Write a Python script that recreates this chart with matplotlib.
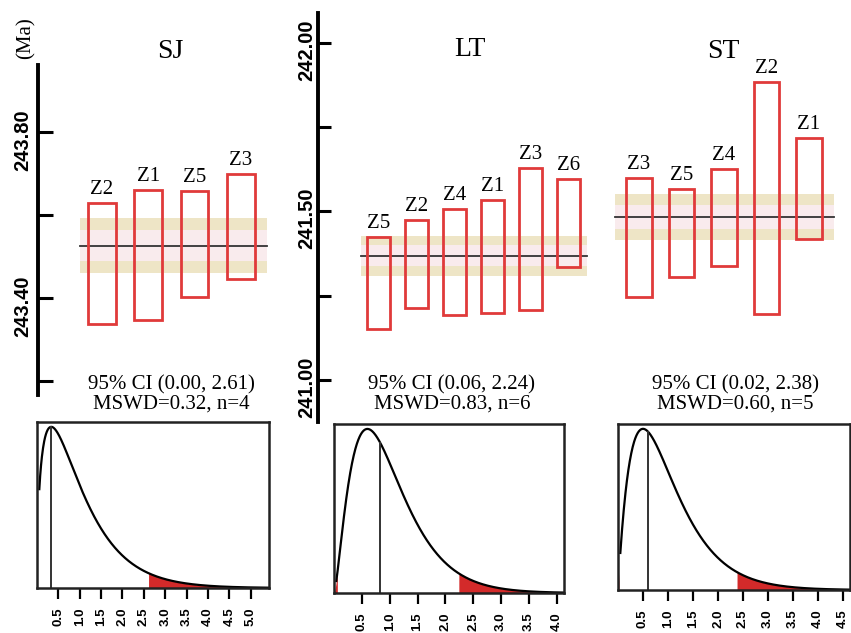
#!/usr/bin/env python3
import math

import matplotlib
import numpy as np

matplotlib.use("Agg")
import matplotlib.pyplot as plt
from matplotlib.patches import Rectangle


W, H = 851, 633
SERIF = "Liberation Serif"

# --- data (Ma) ---
SJ_GRAINS = ["Z2", "Z1", "Z5", "Z3"]
SJ_TOP = [243.629, 243.660, 243.658, 243.699]
SJ_BOTTOM = [243.337, 243.347, 243.402, 243.446]
SJ_MEAN = 243.526
SJ_ERR = (0.037, 0.066)
SJ_MSWD, SJ_N, SJ_CI = 0.32, 4, (0.00, 2.61)

LT_GRAINS = ["Z5", "Z2", "Z4", "Z1", "Z3", "Z6"]
LT_TOP = [241.424, 241.475, 241.507, 241.534, 241.629, 241.596]
LT_BOTTOM = [241.151, 241.214, 241.193, 241.199, 241.208, 241.335]
LT_MEAN = 241.368
LT_ERR = (0.031, 0.059)
LT_MSWD, LT_N, LT_CI = 0.83, 6, (0.06, 2.24)

ST_GRAINS = ["Z3", "Z5", "Z4", "Z2", "Z1"]
ST_TOP = [240.598, 240.570, 240.620, 240.838, 240.698]
ST_BOTTOM = [240.300, 240.350, 240.378, 240.258, 240.445]
ST_MEAN = 240.500
ST_ERR = (0.031, 0.058)
ST_MSWD, ST_N, ST_CI = 0.60, 5, (0.02, 2.38)

SJ_TICKS = [243.20, 243.40, 243.60, 243.80]
SJ_TICK_LABELS = ["", "243.40", "", "243.80"]
LT_TICKS = [241.00, 241.25, 241.50, 241.75, 242.00]
LT_TICK_LABELS = ["241.00", "", "241.50", "", "242.00"]


def px_rect(left, top, right, bottom):
    return [left / W, 1 - bottom / H, (right - left) / W, (bottom - top) / H]


def mswd_pdf(x, n):
    k = n - 1
    c = k * x
    norm = 2 ** (k / 2) * math.gamma(k / 2)
    return k * np.power(c, k / 2 - 1, where=c > 0, out=np.zeros_like(c)) * np.exp(-c / 2) / norm


def age_panel(fig, rect, xlim, ylim, grains, tops, bottoms, mean, err, band, axis):
    ax = fig.add_axes(px_rect(*rect))
    ax.set_facecolor("none")
    ax.set_xlim(*xlim)
    ax.set_ylim(*ylim)
    for side in ("top", "right", "bottom"):
        ax.spines[side].set_visible(False)
    ax.set_xticks([])
    if axis is None:
        ax.spines["left"].set_visible(False)
        ax.set_yticks([])
    else:
        ticks, labels, tick_len, lab_dx, lab_dy = axis
        ax.spines["left"].set_linewidth(2.8)
        ax.set_yticks(ticks)
        ax.set_yticklabels([])
        ax.tick_params(axis="y", direction="in", length=tick_len, width=2.2)
        for v, lab in zip(ticks, labels):
            if lab:
                ax.annotate(lab, xy=(0, v), xycoords=ax.get_yaxis_transform(),
                            xytext=(lab_dx, lab_dy), textcoords="offset pixels",
                            rotation=90, ha="center", va="center",
                            fontsize=14.5, fontweight="bold", family="Liberation Sans")

    x0, x1 = band
    ax.add_patch(Rectangle((x0, mean - err[1]), x1 - x0, 2 * err[1],
                           facecolor="#eee5c6", edgecolor="none", zorder=1))
    ax.add_patch(Rectangle((x0, mean - err[0]), x1 - x0, 2 * err[0],
                           facecolor="#f9ebed", edgecolor="none", zorder=1))
    ax.plot([x0, x1], [mean, mean], color="#333333", lw=1.3, zorder=3)

    for i, (name, top, bot) in enumerate(zip(grains, tops, bottoms), start=1):
        ax.add_patch(Rectangle((i - 0.3, bot), 0.6, top - bot, facecolor="none",
                               edgecolor="#e03a3a", lw=2.0, zorder=4))
        ax.annotate(name, xy=(i, top), xytext=(0, 9), textcoords="offset pixels",
                    ha="center", va="baseline", fontsize=15, family=SERIF)
    return ax


def mswd_panel(fig, rect, xmax, n, mswd, ci, ticks):
    ax = fig.add_axes(px_rect(*rect))
    x = np.linspace(xmax * 0.01, xmax, 800)
    y = mswd_pdf(x, n)
    peak = y.max()
    ax.set_xlim(0, xmax)
    ax.set_ylim(0, peak * 1.03)
    hi = x >= ci[1]
    ax.fill_between(x[hi], 0, y[hi], color="#d32a2a", lw=0)
    if ci[0] > 0:
        xl = np.linspace(0, ci[0], 20)
        ax.fill_between(xl, 0, mswd_pdf(xl, n), color="#d32a2a", lw=0)
    ax.plot(x, y, color="black", lw=1.6)
    ax.plot([mswd, mswd], [0, mswd_pdf(np.array([mswd]), n)[0]], color="#333333", lw=1.4)
    for sp in ax.spines.values():
        sp.set_linewidth(1.8)
        sp.set_color("#222222")
    ax.set_yticks([])
    ax.set_xticks(ticks)
    ax.set_xticklabels([f"{t:.1f}" for t in ticks], rotation=90, fontsize=9.5,
                       fontweight="bold", family="Liberation Sans")
    ax.tick_params(axis="x", length=8, width=1.6, pad=6)
    return ax


def main() -> int:
    fig = plt.figure(figsize=(W / 100, H / 100), dpi=100)

    age_panel(fig, (38, 65, 280, 395), (-0.382, 4.845), (243.1663, 243.9614),
              SJ_GRAINS, SJ_TOP, SJ_BOTTOM, SJ_MEAN, SJ_ERR, (0.53, 4.56),
              (SJ_TICKS, SJ_TICK_LABELS, 11, -15, -8))
    age_panel(fig, (318, 13, 600, 422), (-0.592, 6.83), (240.875, 242.089),
              LT_GRAINS, LT_TOP, LT_BOTTOM, LT_MEAN, LT_ERR, (0.54, 6.49),
              (LT_TICKS, LT_TICK_LABELS, 9, -11, -7))
    age_panel(fig, (600, 13, 851, 422), (0.082, 5.99), (239.9875, 241.01),
              ST_GRAINS, ST_TOP, ST_BOTTOM, ST_MEAN, ST_ERR, (0.44, 5.59), None)

    fig.text(26 / W, 1 - 38 / H, "(Ma)", rotation=90, ha="center", va="center",
             fontsize=15, family=SERIF)
    for name, (px, py) in zip(["SJ", "LT", "ST"], [(170, 51), (470, 50), (723, 51)]):
        fig.text(px / W, 1 - py / H, name, ha="center", va="center", fontsize=20, family=SERIF)

    stats = [(SJ_CI, SJ_MSWD, SJ_N, 171), (LT_CI, LT_MSWD, LT_N, 452), (ST_CI, ST_MSWD, ST_N, 735)]
    for ci, mswd, n, px in stats:
        fig.text(px / W, 1 - 394 / H,
                 f"95% CI ({ci[0]:.2f}, {ci[1]:.2f})\nMSWD={mswd:.2f}, n={n}",
                 ha="center", va="center", fontsize=15, family=SERIF, linespacing=1.0)

    mswd_panel(fig, (37, 422, 269, 588), 5.43, SJ_N, SJ_MSWD, SJ_CI,
               [0.5, 1.0, 1.5, 2.0, 2.5, 3.0, 3.5, 4.0, 4.5, 5.0])
    mswd_panel(fig, (334, 424, 564, 593), 4.13, LT_N, LT_MSWD, LT_CI,
               [0.5, 1.0, 1.5, 2.0, 2.5, 3.0, 3.5, 4.0])
    mswd_panel(fig, (618, 424, 850, 590), 4.64, ST_N, ST_MSWD, ST_CI,
               [0.5, 1.0, 1.5, 2.0, 2.5, 3.0, 3.5, 4.0, 4.5])

    fig.savefig("out.png", dpi=100)
    plt.close(fig)
    return 0


if __name__ == "__main__":
    raise SystemExit(main())
